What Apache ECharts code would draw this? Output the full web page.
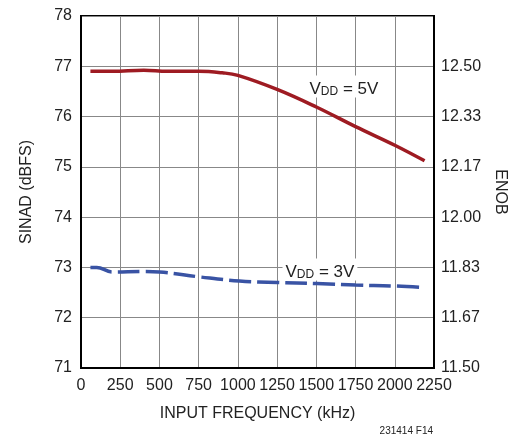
<!DOCTYPE html>
<html><head><meta charset="utf-8">
<script src="https://cdn.jsdelivr.net/npm/echarts@6/dist/echarts.min.js"></script>
<style>html,body{margin:0;padding:0;background:#fff;overflow:hidden}#c{width:509px;height:437px}</style>
</head><body><div id="c"></div>
<script>
const xTicks = [0, 250, 500, 750, 1000, 1250, 1500, 1750, 2000, 2250];
const enobLabels = ['11.50', '11.67', '11.83', '12.00', '12.17', '12.33', '12.50', ''];
const freq5V = [60, 200, 400, 550, 750, 900, 1000, 1250, 1500, 1750, 2000, 2190];
const sinad5V = [76.9, 76.9, 76.92, 76.9, 76.9, 76.87, 76.82, 76.54, 76.19, 75.8, 75.43, 75.12];
const freq3V = [60, 100, 200, 400, 500, 760, 1010, 1250, 1500, 1750, 2000, 2190];
const sinad3V = [73.0, 73.0, 72.91, 72.92, 72.91, 72.81, 72.73, 72.7, 72.68, 72.65, 72.63, 72.6];
const label5V = {x: 1676, y: 76.6, text: ' = 5V'};
const label3V = {x: 1523, y: 72.96, text: ' = 3V'};

const FONT = '"Liberation Sans", Arial, sans-serif';
const chart = echarts.init(document.getElementById('c'));
function pairs(xs, ys){ return xs.map((x,i)=>[x, ys[i]]); }
function annot(l){
  return {
    symbol: 'circle', symbolSize: 0, silent: true,
    data: [{coord: [l.x, l.y]}],
    label: {
      show: true, position: 'inside',
      formatter: '{v|V}{s|DD}{v|' + l.text + '}',
      backgroundColor: '#fff', padding: [0, 3, 0, 3],
      rich: {
        v: {fontFamily: FONT, fontSize: 17, color: '#222', lineHeight: 22, verticalAlign: 'bottom'},
        s: {fontFamily: FONT, fontSize: 12, color: '#222', lineHeight: 12, padding: [8,0,0,0], verticalAlign: 'bottom'}
      }
    }
  };
}
chart.setOption({
  animation: false,
  grid: {left: 81, right: 75, top: 16, bottom: 69, show: true, borderColor: '#000', borderWidth: 2,
    backgroundColor: 'transparent', containLabel: false, outerBoundsMode: 'none'},
  xAxis: {
    type: 'value', min: xTicks[0], max: xTicks[xTicks.length-1], interval: 250,
    name: 'INPUT FREQUENCY (kHz)', nameLocation: 'middle', nameGap: 38,
    nameTextStyle: {fontFamily: FONT, fontSize: 16, color: '#222'},
    axisLine: {show: true, lineStyle: {color: '#000', width: 2}},
    axisTick: {show: false},
    axisLabel: {fontFamily: FONT, fontSize: 16, color: '#222', margin: 10,
      showMinLabel: true, showMaxLabel: true, hideOverlap: false,
      formatter: v => String(v)},
    splitLine: {show: true, lineStyle: {color: '#888', width: 1}}
  },
  yAxis: [{
    type: 'value', min: 71, max: 78, interval: 1, position: 'left',
    name: 'SINAD (dBFS)', nameLocation: 'middle', nameGap: 46,
    nameTextStyle: {fontFamily: FONT, fontSize: 16, color: '#222'},
    axisLine: {show: true, lineStyle: {color: '#000', width: 2}},
    axisTick: {show: false},
    axisLabel: {fontFamily: FONT, fontSize: 16, color: '#222', margin: 9},
    splitLine: {show: true, lineStyle: {color: '#888', width: 1}}
  }, {
    type: 'value', min: 71, max: 78, interval: 1, position: 'right',
    name: 'ENOB', nameLocation: 'middle', nameGap: 56, nameRotate: -90,
    nameTextStyle: {fontFamily: FONT, fontSize: 16, color: '#222'},
    axisLine: {show: true, lineStyle: {color: '#000', width: 2}},
    axisTick: {show: false},
    axisLabel: {fontFamily: FONT, fontSize: 16, color: '#222', margin: 7,
      formatter: v => enobLabels[Math.round(v - 71)]},
    splitLine: {show: false}
  }],
  series: [{
    type: 'line', name: 'VDD = 5V', data: pairs(freq5V, sinad5V), smooth: 0.4,
    symbol: 'none', lineStyle: {color: '#9e1b22', width: 3.5}, z: 3,
    markPoint: annot(label5V)
  }, {
    type: 'line', name: 'VDD = 3V', data: pairs(freq3V, sinad3V), smooth: 0.4,
    symbol: 'none', lineStyle: {color: '#3953a4', width: 3.5, type: [22, 6]}, z: 3,
    markPoint: annot(label3V)
  }],
  graphic: [{
    type: 'text', right: 76, bottom: 1,
    style: {text: '231414 F14', font: '10px ' + FONT, fill: '#222'}
  }]
});
</script></body></html>
